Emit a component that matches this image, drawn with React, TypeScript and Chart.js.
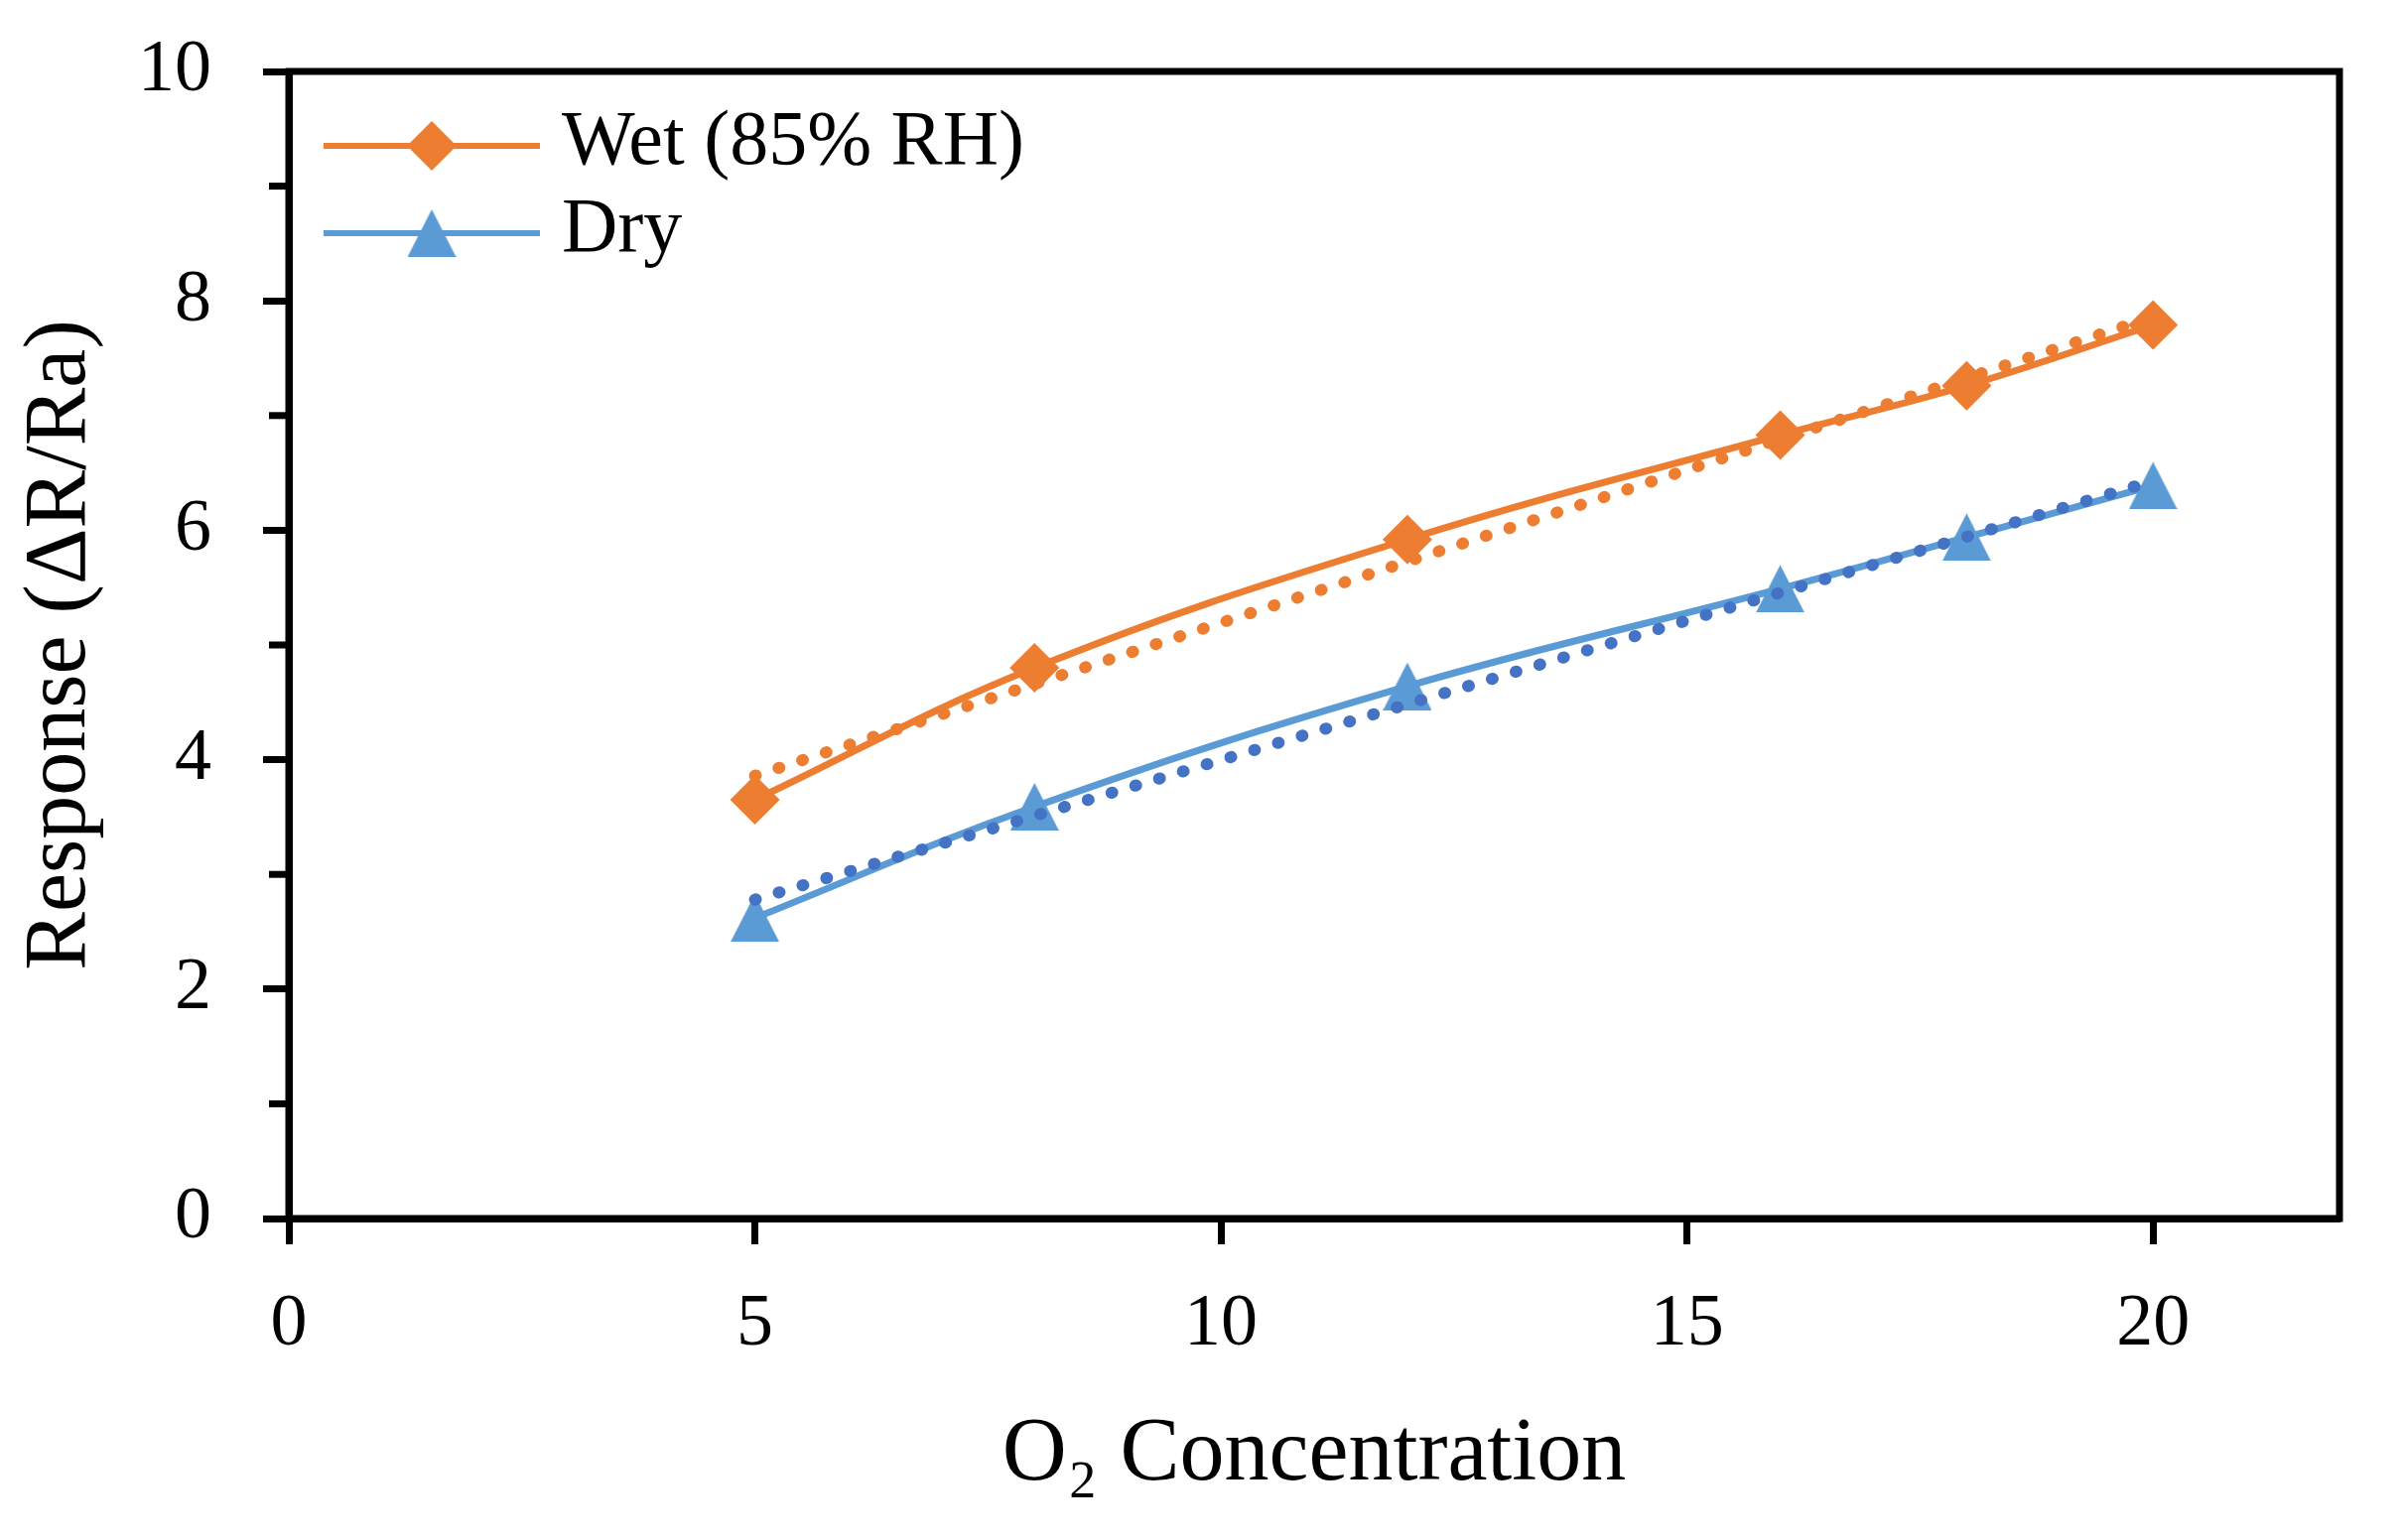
import React, { useEffect, useRef } from 'react';
import { Chart, registerables } from 'chart.js';

Chart.register(...registerables);

// ---- data ----
const concentrations = [5, 8, 12, 16, 18, 20];
const wetResponse = [3.65, 4.8, 5.92, 6.83, 7.26, 7.79];
const dryResponse = [2.62, 3.59, 4.64, 5.49, 5.94, 6.39];
const trendX = [5, 20];
const wetTrendY = [3.86, 7.86];
const dryTrendY = [2.78, 6.43];
const seriesLabels = ['Wet (85% RH)', 'Dry'];
const xAxisTitle = 'O\u2082 Concentration';
const yAxisTitle = 'Response (\u0394R/Ra)';

const FONT = "'Liberation Serif', 'DejaVu Serif', serif";
const ORANGE = '#ED7D31';
const BLUE = '#5B9BD5';
const DARK_BLUE = '#4472C4';

function makeTriangle(w: number, h: number, color: string) {
  const c = document.createElement('canvas');
  c.width = w;
  c.height = h;
  const g = c.getContext('2d')!;
  g.fillStyle = color;
  g.beginPath();
  g.moveTo(w / 2, 0);
  g.lineTo(w, h);
  g.lineTo(0, h);
  g.closePath();
  g.fill();
  return c;
}

const decorPlugin = {
  id: 'decor',
  afterDraw(chart: any) {
    const { ctx, chartArea: a, scales } = chart;
    ctx.save();
    // frame
    ctx.strokeStyle = '#000';
    ctx.lineWidth = 7;
    ctx.lineJoin = 'miter';
    ctx.strokeRect(a.left, a.top, a.right - a.left, a.bottom - a.top);
    // minor y ticks (odd values)
    const ys = scales.y;
    ys.ticks.forEach((t: any) => {
      if (Math.round(t.value) % 2 === 1) {
        const py = ys.getPixelForValue(t.value);
        ctx.beginPath();
        ctx.moveTo(a.left, py);
        ctx.lineTo(a.left - 20, py);
        ctx.stroke();
      }
    });
    // legend inside the plot area
    const legendSets = [chart.data.datasets[2], chart.data.datasets[3]];
    legendSets.forEach((ds: any, i: number) => {
      const rowY = a.top + 75 + i * 88;
      const x0 = a.left + 35;
      const x1 = a.left + 253;
      const mx = (x0 + x1) / 2;
      ctx.strokeStyle = ds.borderColor;
      ctx.lineWidth = 6;
      ctx.lineCap = 'butt';
      ctx.setLineDash([]);
      ctx.beginPath();
      ctx.moveTo(x0, rowY);
      ctx.lineTo(x1, rowY);
      ctx.stroke();
      const ps = ds.pointStyle;
      if (ps && typeof ps === 'object') {
        ctx.drawImage(ps, mx - ps.width / 2, rowY - ps.height / 2);
      } else {
        const r = ds.pointRadius;
        ctx.fillStyle = ds.pointBackgroundColor;
        ctx.beginPath();
        ctx.moveTo(mx - r, rowY);
        ctx.lineTo(mx, rowY - r);
        ctx.lineTo(mx + r, rowY);
        ctx.lineTo(mx, rowY + r);
        ctx.closePath();
        ctx.fill();
      }
      ctx.fillStyle = '#000';
      ctx.font = `78px ${FONT}`;
      ctx.textAlign = 'left';
      ctx.textBaseline = 'middle';
      ctx.fillText(ds.label, a.left + 275, rowY - 2);
    });
    ctx.restore();
  },
};

export default function App() {
  const canvasRef = useRef<HTMLCanvasElement | null>(null);

  useEffect(() => {
    const canvas = canvasRef.current;
    if (!canvas) return;
    const triangle = makeTriangle(49, 48, BLUE);

    const chart = new Chart(canvas, {
      type: 'line',
      data: {
        datasets: [
          {
            label: 'Linear (Wet)',
            data: trendX.map((x, i) => ({ x, y: wetTrendY[i] })),
            borderColor: ORANGE,
            borderWidth: 12,
            borderDash: [1, 24],
            borderCapStyle: 'round',
            pointRadius: 0,
            tension: 0,
            fill: false,
          },
          {
            label: 'Linear (Dry)',
            data: trendX.map((x, i) => ({ x, y: dryTrendY[i] })),
            borderColor: DARK_BLUE,
            borderWidth: 12,
            borderDash: [1, 24],
            borderCapStyle: 'round',
            pointRadius: 0,
            tension: 0,
            fill: false,
          },
          {
            label: seriesLabels[0],
            data: concentrations.map((x, i) => ({ x, y: wetResponse[i] })),
            borderColor: ORANGE,
            backgroundColor: ORANGE,
            borderWidth: 7,
            pointStyle: 'rectRot',
            pointRadius: 25,
            pointBackgroundColor: ORANGE,
            pointBorderWidth: 0,
            tension: 0.4,
            fill: false,
          },
          {
            label: seriesLabels[1],
            data: concentrations.map((x, i) => ({ x, y: dryResponse[i] })),
            borderColor: BLUE,
            backgroundColor: BLUE,
            borderWidth: 7,
            pointStyle: triangle as any,
            pointRadius: 25,
            pointBackgroundColor: BLUE,
            pointBorderWidth: 0,
            tension: 0.4,
            fill: false,
          },
        ] as any,
      },
      options: {
        responsive: false,
        animation: false,
        devicePixelRatio: 1,
        events: [],
        layout: { padding: { left: 0, top: 72, right: 64, bottom: 0 } },
        plugins: {
          legend: { display: false },
          tooltip: { enabled: false },
        },
        scales: {
          x: {
            type: 'linear',
            min: 0,
            max: 22,
            afterFit: (s: any) => {
              s.height = 324;
              s.paddingLeft = 0;
              s.paddingRight = 0;
            },
            border: { display: true, color: '#000', width: 7 },
            grid: {
              display: true,
              drawOnChartArea: false,
              drawTicks: true,
              tickLength: 26,
              tickWidth: 7,
              tickColor: '#000',
            },
            ticks: {
              stepSize: 5,
              includeBounds: false,
              autoSkip: false,
              maxRotation: 0,
              padding: 37,
              color: '#000',
              font: { family: FONT, size: 74 },
            },
            title: {
              display: true,
              text: xAxisTitle,
              color: '#000',
              font: { family: FONT, size: 90 },
              padding: { top: 0, bottom: 31 },
            },
          },
          y: {
            type: 'linear',
            min: 0,
            max: 10,
            afterFit: (s: any) => {
              s.width = 291;
              s.paddingTop = 0;
              s.paddingBottom = 0;
            },
            border: { display: true, color: '#000', width: 7 },
            grid: {
              display: true,
              drawOnChartArea: false,
              drawTicks: true,
              tickLength: 26,
              tickWidth: 7,
              tickColor: (c: any) =>
                c.tick && Math.round(c.tick.value) % 2 === 1 ? 'rgba(0,0,0,0)' : '#000',
            },
            ticks: {
              stepSize: 1,
              autoSkip: false,
              padding: 52,
              color: '#000',
              font: { family: FONT, size: 74 },
              callback: (v: any) => (Math.round(v) % 2 === 0 ? String(v) : ''),
            },
            title: {
              display: true,
              text: yAxisTitle,
              color: '#000',
              font: { family: FONT, size: 88 },
              padding: { top: 9, bottom: 0 },
            },
          },
        },
      } as any,
      plugins: [decorPlugin],
    });

    return () => {
      chart.destroy();
    };
  }, []);

  return (
    <div
      style={{
        position: 'fixed',
        left: 0,
        top: 0,
        width: 2421,
        height: 1552,
        background: '#fff',
      }}
    >
      <canvas
        ref={canvasRef}
        width={2421}
        height={1552}
        style={{ width: 2421, height: 1552, display: 'block' }}
      />
    </div>
  );
}
